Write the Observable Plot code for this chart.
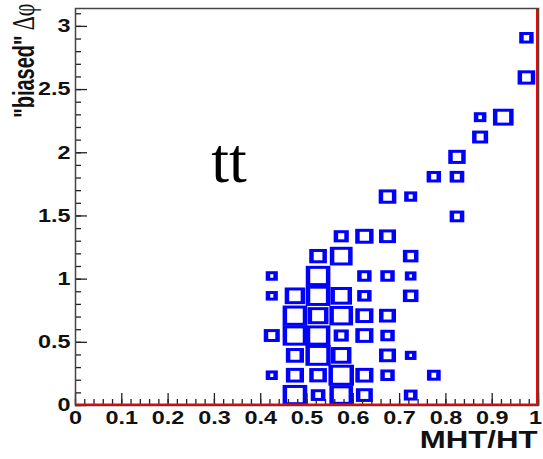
<!DOCTYPE html>
<html><head><meta charset="utf-8">
<script src="https://cdn.jsdelivr.net/npm/d3@7"></script>
<script src="https://cdn.jsdelivr.net/npm/@observablehq/plot@0.6"></script>
<style>html,body{margin:0;padding:0;background:#fff;}</style>
</head><body><div id="chart"></div>
<script>
// MHT/HT bin centre of each filled cell
const mhtHT = [
  0.475,0.525,0.575,0.625,0.725,
  0.425,0.475,0.525,0.575,0.625,0.675,0.775,
  0.475,0.525,0.575,0.675,0.725,
  0.425,0.475,0.525,0.575,0.625,0.675,
  0.475,0.525,0.575,0.625,0.675,
  0.425,0.475,0.525,0.575,0.625,0.725,
  0.425,0.525,0.625,0.675,0.725,
  0.525,0.575,0.725,
  0.575,0.625,0.675,
  0.825,
  0.675,0.725,
  0.775,0.825,
  0.825,
  0.875,
  0.875,0.925,
  0.975,
  0.975
];
// "biased" delta-phi bin index (20 bins over 0..pi)
const dphiBin = [
  0,0,0,0,0,
  1,1,1,1,1,1,1,
  2,2,2,2,2,
  3,3,3,3,3,3,
  4,4,4,4,4,
  5,5,5,5,5,5,
  6,6,6,6,6,
  7,7,7,
  8,8,8,
  9,
  10,10,
  11,11,
  12,
  13,
  14,14,
  16,
  18
];
// relative cell content
const content = [
  96,53,92,63,49,
  42,68,66,100,68,52,49,
  68,99,78,63,40,
  59,96,96,55,68,52,
  96,80,92,68,63,
  42,78,96,83,52,57,
  42,96,52,52,40,
  66,88,57,
  55,69,63,
  53,
  66,46,
  52,53,
  65,
  59,
  44,79,
  66,
  52
];
const xBinWidth = 0.05;
const nYBins = 20;
const yMax = Math.PI;
const xTickLabels = [0, 0.1, 0.2, 0.3, 0.4, 0.5, 0.6, 0.7, 0.8, 0.9, 1];
const yTickLabels = [0, 0.5, 1, 1.5, 2, 2.5, 3];
const xMinorTicks = d3.ticks(0, 1, 50);
const yMinorTicks = d3.ticks(0, 3.1, 31);
const annotation = [{label: "tt", x: 0.293, y: 1.765}];

const maxC = d3.max(content);
const yStep = yMax / nYBins;
const cells = mhtHT.map((x, i) => {
  const f = content[i] / maxC;
  const yc = (dphiBin[i] + 0.5) * yStep;
  return {x1: x - f * xBinWidth / 2, x2: x + f * xBinWidth / 2, y1: yc - f * yStep / 2, y2: yc + f * yStep / 2};
});

const W = 543, H = 459, mL = 75, mR = 5, mT = 8, mB = 54;
const frameW = W - mL - mR, frameH = H - mT - mB;
const sans = "Liberation Sans, Arial, Helvetica, sans-serif";
const serif = "Liberation Serif, Times New Roman, serif";
const labelStyle = {fontFamily: sans, fontWeight: "bold", fontSize: 18, fill: "#111"};

const chart = Plot.plot({
  width: W, height: H,
  marginLeft: mL, marginRight: mR, marginTop: mT, marginBottom: mB,
  x: {domain: [0, 1], axis: null},
  y: {domain: [0, yMax], axis: null},
  style: {background: "white", overflow: "visible"},
  marks: [
    Plot.rect(cells, {x1: "x1", x2: "x2", y1: "y1", y2: "y2", fill: "#0000ff",
      insetLeft: -1.2, insetRight: -1.2, insetTop: -0.6, insetBottom: -0.6}),
    Plot.rect(cells, {x1: "x1", x2: "x2", y1: "y1", y2: "y2", fill: "white",
      insetLeft: 3.3, insetRight: 3.3, insetTop: 2.4, insetBottom: 2.4}),
    Plot.tickY(yMinorTicks, {y: d => d, stroke: "#222", strokeWidth: 1.3, insetRight: frameW - 6}),
    Plot.tickY(yTickLabels, {y: d => d, stroke: "#222", strokeWidth: 1.3, insetRight: frameW - 12}),
    Plot.tickX(xMinorTicks, {x: d => d, stroke: "#222", strokeWidth: 1.3, insetTop: frameH - 6}),
    Plot.tickX(xTickLabels, {x: d => d, stroke: "#222", strokeWidth: 1.3, insetTop: frameH - 12}),
    Plot.ruleY([0], {stroke: "red", strokeWidth: 2, dy: -1}),
    Plot.ruleX([1], {stroke: "red", strokeWidth: 2, dx: -1.5}),
    Plot.frame({stroke: "#444", strokeWidth: 1.5}),
    Plot.text(xTickLabels.slice(0, -1), {x: d => d, text: d => String(d), frameAnchor: "bottom", lineAnchor: "top", dy: 6, ...labelStyle}),
    Plot.text(xTickLabels.slice(-1), {x: d => d, text: d => String(d), frameAnchor: "bottom", lineAnchor: "top", dy: 6, dx: -3, ...labelStyle}),
    Plot.text(yTickLabels, {y: d => d, text: d => String(d), frameAnchor: "left", textAnchor: "end", dx: -5, ...labelStyle}),
    Plot.text(["MHT/HT"], {frameAnchor: "bottom-right", textAnchor: "end", lineAnchor: "bottom", dx: -1, dy: 42,
      fontFamily: sans, fontWeight: "bold", fontSize: 24, fill: "#111"}),
    Plot.text(['"biased"'], {frameAnchor: "top-left", rotate: -90, textAnchor: "end", lineAnchor: "bottom", dx: -42, dy: 27,
      fontFamily: sans, fontWeight: "bold", fontSize: 20, fill: "#111"}),
    Plot.text(["\u0394\u03c6"], {frameAnchor: "top-left", rotate: -90, textAnchor: "end", lineAnchor: "bottom", dx: -42, dy: -5,
      fontFamily: serif, fontSize: 22, fill: "#111"}),
    Plot.text(annotation, {x: "x", y: "y", text: "label", textAnchor: "start", lineAnchor: "bottom",
      fontFamily: serif, fontSize: 64, fill: "#000"})
  ]
});

// ROOT canvas was stretched horizontally: widen the axis texts accordingly
chart.querySelectorAll("text").forEach(t => {
  if (t.textContent === "tt") return;
  const tr = t.getAttribute("transform") || "";
  const rotated = /rotate\(-90\)/.test(tr);
  t.setAttribute("transform", tr + (rotated ? " scale(1,1.45)" : " scale(1.3,1)"));
});

document.getElementById("chart").append(chart);
</script>
</body></html>
